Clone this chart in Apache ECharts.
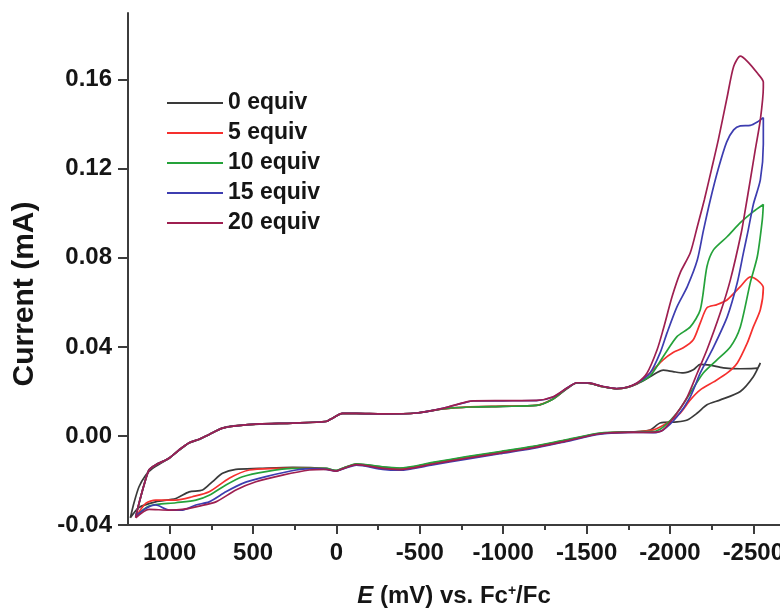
<!DOCTYPE html>
<html><head><meta charset="utf-8">
<script src="https://cdn.jsdelivr.net/npm/echarts@6.0.0/dist/echarts.min.js"></script>
<style>html,body{margin:0;padding:0;background:#fff}#c{width:780px;height:611px}</style>
</head><body><div id="c"></div>
<script>
const seriesNames = ['0 equiv', '5 equiv', '10 equiv', '15 equiv', '20 equiv'];
const seriesColors = ['#3a3a3a', '#f5302e', '#25a23a', '#3d3db0', '#9e1f50'];

// [E (mV), current (mA)] — forward scan (upper branch) then return scan (lower branch)
const cv0 = [
 [1236,-0.0368],[1214,-0.0300],[1184,-0.0228],[1144,-0.0176],[1104,-0.0146],[1004,-0.0100],[944,-0.0065],[883,-0.0032],[823,-0.0016],[763,0.0007],[683,0.0035],[603,0.0046],[463,0.0053],[263,0.0058],[62,0.0066],[24,0.0080],[-36,0.0100],[-120,0.0100],[-277,0.0098],[-480,0.0103],[-637,0.0121],[-800,0.0130],[-1000,0.0133],[-1200,0.0137],[-1300,0.0166],[-1382,0.0212],[-1442,0.0238],[-1520,0.0236],[-1600,0.0221],[-1680,0.0212],[-1743,0.0218],[-1803,0.0234],[-1863,0.0258],[-1923,0.0285],[-1959,0.0296],[-2019,0.0289],[-2080,0.0283],[-2140,0.0297],[-2182,0.0322],[-2242,0.0318],[-2320,0.0306],[-2422,0.0302],[-2524,0.0305],[-2542,0.0328],
 [-2500,0.0266],[-2422,0.0200],[-2302,0.0162],[-2222,0.0140],[-2164,0.0103],[-2104,0.0072],[-2042,0.0063],[-1941,0.0058],[-1881,0.0027],[-1779,0.0018],[-1581,0.0012],[-1382,-0.0018],[-1178,-0.0049],[-980,-0.0072],[-781,-0.0095],[-577,-0.0121],[-379,-0.0146],[-277,-0.0140],[-120,-0.0126],[-40,-0.0145],[2,-0.0156],[62,-0.0146],[263,-0.0141],[463,-0.0146],[603,-0.0150],[683,-0.0168],[743,-0.0205],[803,-0.0243],[883,-0.0251],[963,-0.0281],[1084,-0.0296],[1184,-0.0321],[1236,-0.0368]
];
const cv5 = [
 [1204,-0.0365],[1184,-0.0303],[1154,-0.0220],[1124,-0.0153],[1084,-0.0130],[1004,-0.0100],[944,-0.0063],[883,-0.0030],[823,-0.0015],[763,0.0007],[683,0.0035],[603,0.0045],[463,0.0054],[263,0.0058],[62,0.0065],[24,0.0080],[-36,0.0101],[-120,0.0101],[-277,0.0099],[-480,0.0103],[-637,0.0122],[-800,0.0131],[-1000,0.0134],[-1200,0.0138],[-1300,0.0167],[-1382,0.0214],[-1442,0.0238],[-1520,0.0236],[-1600,0.0221],[-1680,0.0212],[-1743,0.0218],[-1803,0.0236],[-1840,0.0255],[-1899,0.0297],[-1959,0.0342],[-2019,0.0375],[-2080,0.0396],[-2140,0.0432],[-2182,0.0508],[-2222,0.0576],[-2282,0.0590],[-2344,0.0612],[-2422,0.0671],[-2482,0.0715],[-2524,0.0700],[-2560,0.0666],
 [-2542,0.0567],[-2500,0.0490],[-2464,0.0418],[-2404,0.0328],[-2344,0.0283],[-2262,0.0243],[-2182,0.0207],[-2122,0.0162],[-2062,0.0103],[-1983,0.0058],[-1899,0.0027],[-1779,0.0018],[-1581,0.0011],[-1382,-0.0019],[-1178,-0.0050],[-980,-0.0074],[-781,-0.0098],[-577,-0.0124],[-379,-0.0148],[-277,-0.0142],[-120,-0.0127],[-40,-0.0146],[2,-0.0157],[62,-0.0148],[222,-0.0144],[362,-0.0146],[523,-0.0153],[643,-0.0190],[763,-0.0251],[864,-0.0273],[963,-0.0288],[1084,-0.0288],[1144,-0.0303],[1204,-0.0365]
];
const cv10 = [
 [1204,-0.0363],[1184,-0.0303],[1154,-0.0220],[1124,-0.0153],[1084,-0.0130],[1004,-0.0100],[944,-0.0063],[883,-0.0030],[823,-0.0015],[763,0.0007],[683,0.0035],[603,0.0045],[463,0.0054],[263,0.0058],[62,0.0065],[24,0.0080],[-36,0.0101],[-120,0.0101],[-277,0.0099],[-480,0.0103],[-637,0.0122],[-800,0.0130],[-1000,0.0133],[-1200,0.0137],[-1300,0.0166],[-1382,0.0214],[-1442,0.0238],[-1520,0.0236],[-1600,0.0221],[-1680,0.0212],[-1743,0.0218],[-1803,0.0236],[-1881,0.0270],[-1959,0.0356],[-2042,0.0446],[-2122,0.0490],[-2182,0.0567],[-2222,0.0761],[-2262,0.0837],[-2344,0.0896],[-2422,0.0958],[-2500,0.1008],[-2560,0.1040],
 [-2554,0.0972],[-2524,0.0806],[-2482,0.0689],[-2422,0.0490],[-2362,0.0400],[-2282,0.0342],[-2200,0.0283],[-2122,0.0193],[-2042,0.0103],[-1959,0.0040],[-1899,0.0020],[-1779,0.0019],[-1581,0.0013],[-1382,-0.0016],[-1178,-0.0047],[-980,-0.0070],[-781,-0.0093],[-577,-0.0119],[-379,-0.0144],[-277,-0.0139],[-120,-0.0125],[-40,-0.0144],[2,-0.0155],[62,-0.0146],[263,-0.0146],[423,-0.0160],[563,-0.0183],[663,-0.0220],[763,-0.0266],[843,-0.0288],[963,-0.0300],[1124,-0.0315],[1204,-0.0363]
];
const cv15 = [
 [1204,-0.0360],[1184,-0.0303],[1154,-0.0220],[1124,-0.0153],[1084,-0.0130],[1004,-0.0100],[944,-0.0063],[883,-0.0030],[823,-0.0015],[763,0.0007],[683,0.0035],[603,0.0045],[463,0.0054],[263,0.0058],[62,0.0065],[24,0.0080],[-36,0.0101],[-120,0.0101],[-277,0.0099],[-480,0.0103],[-637,0.0124],[-780,0.0152],[-820,0.0157],[-1000,0.0158],[-1200,0.0159],[-1300,0.0175],[-1382,0.0215],[-1442,0.0239],[-1520,0.0237],[-1600,0.0222],[-1680,0.0213],[-1743,0.0219],[-1803,0.0238],[-1881,0.0283],[-1941,0.0373],[-1983,0.0464],[-2042,0.0580],[-2104,0.0671],[-2164,0.0790],[-2200,0.0920],[-2242,0.1060],[-2290,0.1200],[-2340,0.1320],[-2382,0.1375],[-2422,0.1393],[-2482,0.1395],[-2524,0.1410],[-2560,0.1430],
 [-2560,0.1310],[-2542,0.1150],[-2500,0.1040],[-2470,0.0927],[-2440,0.0820],[-2404,0.0689],[-2344,0.0536],[-2262,0.0400],[-2182,0.0283],[-2122,0.0176],[-2042,0.0086],[-1959,0.0027],[-1899,0.0015],[-1779,0.0016],[-1581,0.0008],[-1382,-0.0024],[-1178,-0.0056],[-980,-0.0080],[-781,-0.0104],[-577,-0.0130],[-379,-0.0154],[-277,-0.0150],[-120,-0.0131],[-40,-0.0148],[2,-0.0158],[62,-0.0150],[122,-0.0147],[242,-0.0153],[423,-0.0183],[563,-0.0213],[663,-0.0251],[763,-0.0296],[843,-0.0310],[924,-0.0333],[1004,-0.0333],[1084,-0.0310],[1144,-0.0326],[1204,-0.0360]
];
const cv20 = [
 [1204,-0.0368],[1184,-0.0303],[1154,-0.0220],[1124,-0.0153],[1084,-0.0130],[1004,-0.0100],[944,-0.0063],[883,-0.0030],[823,-0.0015],[763,0.0007],[683,0.0035],[603,0.0045],[463,0.0054],[263,0.0058],[62,0.0065],[24,0.0080],[-36,0.0101],[-120,0.0101],[-277,0.0099],[-480,0.0103],[-637,0.0124],[-780,0.0153],[-820,0.0158],[-1000,0.0159],[-1200,0.0160],[-1300,0.0176],[-1382,0.0215],[-1442,0.0239],[-1520,0.0237],[-1600,0.0222],[-1680,0.0213],[-1743,0.0219],[-1803,0.0238],[-1863,0.0283],[-1923,0.0387],[-1959,0.0477],[-2013,0.0626],[-2062,0.0734],[-2122,0.0823],[-2164,0.0940],[-2206,0.1060],[-2250,0.1200],[-2290,0.1330],[-2344,0.1526],[-2382,0.1660],[-2422,0.1706],[-2464,0.1683],[-2524,0.1630],[-2560,0.1590],
 [-2560,0.1566],[-2542,0.1420],[-2512,0.1287],[-2482,0.1150],[-2452,0.1017],[-2428,0.0914],[-2362,0.0700],[-2302,0.0553],[-2222,0.0387],[-2164,0.0283],[-2104,0.0176],[-2042,0.0103],[-1959,0.0027],[-1899,0.0016],[-1779,0.0017],[-1581,0.0010],[-1382,-0.0022],[-1178,-0.0053],[-980,-0.0077],[-781,-0.0100],[-577,-0.0126],[-379,-0.0151],[-277,-0.0146],[-120,-0.0129],[-40,-0.0147],[2,-0.0158],[62,-0.0150],[162,-0.0153],[323,-0.0176],[483,-0.0206],[603,-0.0243],[723,-0.0296],[823,-0.0315],[924,-0.0330],[1004,-0.0333],[1124,-0.0330],[1204,-0.0368]
];

const xMajorTicks = [1000, 500, 0, -500, -1000, -1500, -2000, -2500];
const xMinorTicks = [750, 250, -250, -750, -1250, -1750, -2250];
const yTicks = [-0.04, 0, 0.04, 0.08, 0.12, 0.16];

const FONT = 'Liberation Sans, Arial, Helvetica, sans-serif';
const AXIS_COLOR = '#3c3c3c';
const allData = [cv0, cv5, cv10, cv15, cv20];

const chart = echarts.init(document.getElementById('c'), null, {renderer: 'canvas'});
chart.setOption({
  animation: false,
  backgroundColor: '#ffffff',
  grid: {left: 128, right: 0, top: 13, bottom: 86, containLabel: false, outerBoundsMode: 'none'},
  legend: {
    data: seriesNames,
    orient: 'vertical',
    left: 167, top: 90, padding: 0,
    itemWidth: 56, itemHeight: 2, itemGap: 4,
    icon: 'rect',
    selectedMode: false,
    textStyle: {fontFamily: FONT, fontSize: 23, fontWeight: 'bold', color: '#151515', lineHeight: 26}
  },
  xAxis: [{
    type: 'value', inverse: true, min: -2660, max: 1250, position: 'bottom',
    axisLine: {show: true, onZero: false, lineStyle: {color: AXIS_COLOR, width: 2}},
    axisTick: {show: true, customValues: xMajorTicks, length: 9, lineStyle: {color: AXIS_COLOR, width: 2}},
    axisLabel: {show: true, customValues: xMajorTicks, margin: 16, fontFamily: FONT, fontSize: 24, fontWeight: 'bold', color: '#151515',
      formatter: v => String(Math.round(v))},
    splitLine: {show: false},
    name: '{i|E} (mV) vs. Fc{s|+}/Fc',
    nameLocation: 'middle', nameGap: 59,
    nameTextStyle: {
      fontFamily: FONT, fontSize: 24, fontWeight: 'bold', color: '#151515',
      rich: {
        i: {fontFamily: FONT, fontSize: 24, fontWeight: 'bold', fontStyle: 'italic', color: '#151515'},
        s: {fontFamily: FONT, fontSize: 14, fontWeight: 'bold', color: '#151515', verticalAlign: 'top', padding: [0, 0, 4, 0]}
      }
    }
  }, {
    type: 'value', inverse: true, min: -2660, max: 1250, position: 'bottom', gridIndex: 0,
    axisLine: {show: false, onZero: false},
    axisTick: {show: true, customValues: xMinorTicks, length: 5, lineStyle: {color: AXIS_COLOR, width: 2}},
    axisLabel: {show: false},
    splitLine: {show: false}
  }],
  yAxis: {
    type: 'value', min: -0.04, max: 0.19,
    axisLine: {show: true, onZero: false, lineStyle: {color: AXIS_COLOR, width: 2}},
    axisTick: {show: true, customValues: yTicks, length: 10, lineStyle: {color: AXIS_COLOR, width: 2}},
    axisLabel: {show: true, customValues: yTicks, margin: 16, fontFamily: FONT, fontSize: 24, fontWeight: 'bold', color: '#151515',
      formatter: v => v.toFixed(2)},
    splitLine: {show: false},
    name: 'Current (mA)',
    nameLocation: 'middle', nameGap: 88,
    nameTextStyle: {fontFamily: FONT, fontSize: 30, fontWeight: 'bold', color: '#151515', padding: [0, 50, 0, 0]}
  },
  series: seriesNames.map((name, k) => ({
    name: name,
    type: 'line',
    xAxisIndex: 0,
    data: allData[k],
    symbol: 'none',
    showSymbol: false,
    smooth: 0.25,
    color: seriesColors[k],
    lineStyle: {color: seriesColors[k], width: 1.7}
  }))
});
</script></body></html>
